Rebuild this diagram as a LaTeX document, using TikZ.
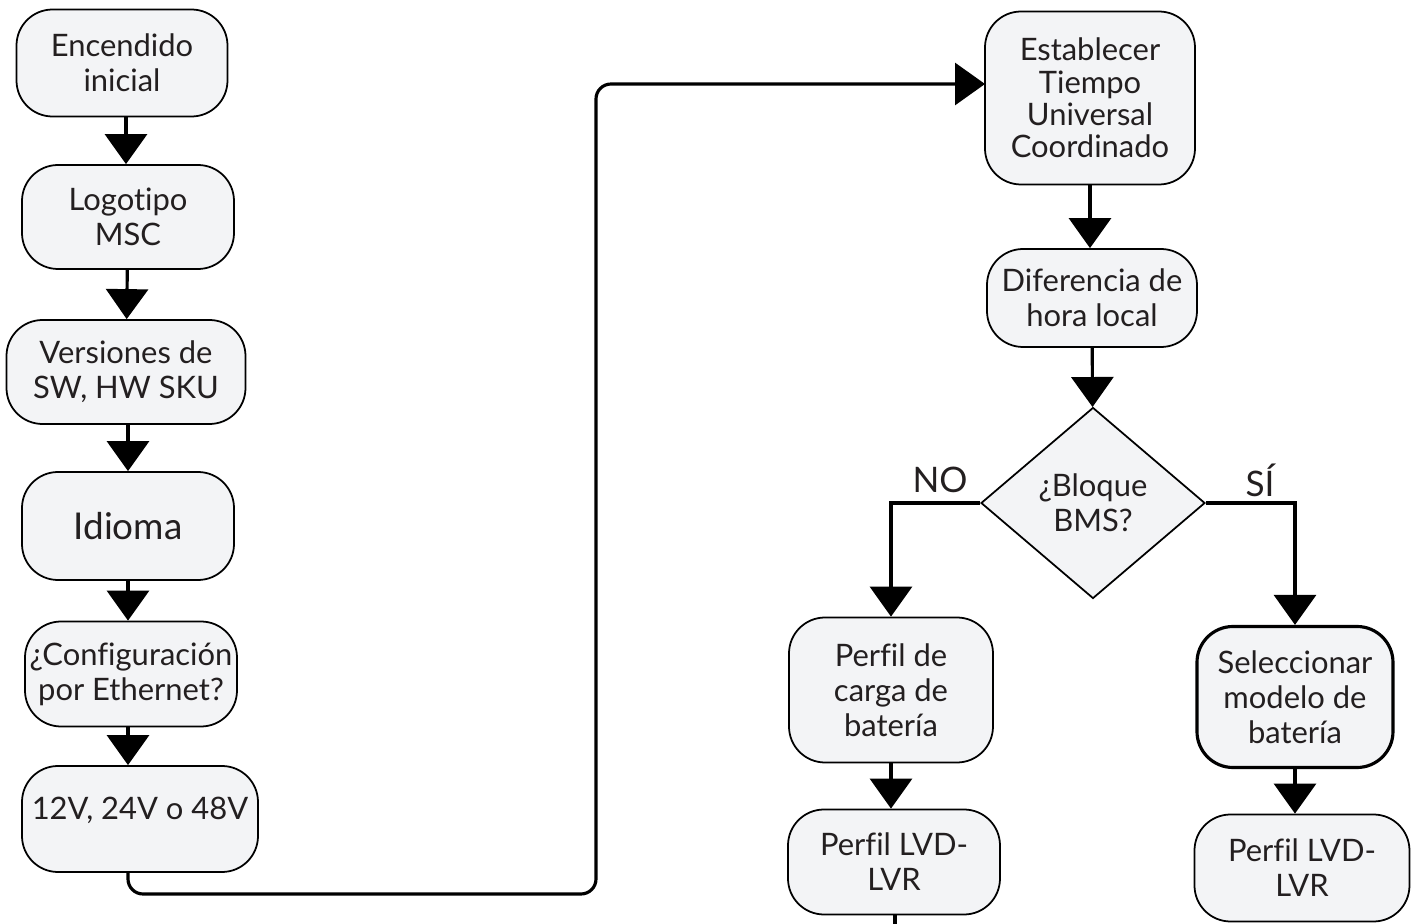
\documentclass[tikz,border=0pt]{standalone}
\usepackage{fontspec}
\setmainfont{Lato}[Ligatures=NoCommon]
\usetikzlibrary{arrows.meta, positioning, shapes.geometric, calc}
\definecolor{fcfill}{HTML}{F3F4F6}
\definecolor{fctext}{HTML}{231F20}

\begin{document}
\begin{tikzpicture}[
  every node/.style={font=\fontsize{8.8}{10}\selectfont, text=fctext},
  box/.style={rectangle, draw=black, line width=0.5pt, fill=fcfill, rounded corners=0.36cm, align=center, inner sep=0pt},
  decision/.style={diamond, draw=black, line width=0.5pt, fill=fcfill, align=center, inner sep=0pt, minimum width=2.24cm, minimum height=1.91cm},
  flow/.style={line width=0.9pt, -{Triangle[length=0.3cm, width=0.42cm]}},
]
\useasboundingbox (0,0) rectangle (14.16,-9.24);

% left column
\node[box, minimum width=2.11cm, minimum height=1.07cm] (start) at (1.22,-0.63) {Encendido\\inicial};
\node[box, minimum width=2.12cm, minimum height=1.04cm] (logo) at (1.28,-2.17) {Logotipo\\MSC};
\node[box, minimum width=2.39cm, minimum height=1.04cm] (versions) at (1.26,-3.72) {Versiones de\\SW, HW SKU};
\node[box, minimum width=2.12cm, minimum height=1.08cm, font=\fontsize{10.5}{12}\selectfont] (lang) at (1.28,-5.26) {Idioma};
\node[box, minimum width=2.12cm, minimum height=1.05cm] (ethq) at (1.31,-6.74) {¿Configuración\\por Ethernet?};
\node[box, minimum width=2.36cm, minimum height=1.06cm] (volt) at (1.40,-8.19) {\raisebox{0.22cm}{12V, 24V o 48V}};

\draw[flow] (start.south -| 1.26,0) -- (logo.north -| 1.26,0);
\draw[flow] (logo) -- (versions);
\draw[flow] (versions.south -| logo) -- (lang);
\draw[flow] (lang) -- (ethq.north -| lang);
\draw[flow] (ethq.south -| lang) -- (volt.north -| lang);

% long link to the right column
\coordinate (lowturn) at (1.28,-8.94);
\coordinate (highturn) at (5.96,-0.84);
\draw[flow, rounded corners=0.15cm] (lowturn |- volt.south) -- (lowturn) -| (highturn) -- (highturn -| 9.85,0);

% right column
\node[box, minimum width=2.10cm, minimum height=1.73cm, font=\fontsize{8.8}{9.2}\selectfont] (utc) at (10.90,-0.98) {Establecer\\Tiempo\\Universal\\Coordinado};
\node[box, minimum width=2.10cm, minimum height=0.98cm] (tzone) at (10.92,-2.98) {Diferencia de\\hora local};
\node[decision] (bms) at (10.93,-5.03) {¿Bloque\\BMS?};

\draw[flow] (utc) -- (tzone.north -| utc);
\draw[flow] (tzone) -- (bms);

% NO branch
\node[box, minimum width=2.04cm, minimum height=1.45cm] (profA) at (8.91,-6.90) {Perfil de\\carga de\\batería};
\node[box, minimum width=2.12cm, minimum height=1.05cm] (lvdA) at (8.94,-8.62) {Perfil LVD-\\LVR};
\draw[flow] (bms.west) -| (profA.north);
\draw[flow] (profA) -- (lvdA.north -| profA);
\coordinate (exitA) at (8.95,-9.30);
\draw[line width=0.9pt] (lvdA.south -| exitA) -- (exitA);

% SÍ branch
\node[box, line width=0.9pt, minimum width=1.96cm, minimum height=1.41cm] (model) at (12.95,-6.97) {Seleccionar\\modelo de\\batería};
\node[box, minimum width=2.15cm, minimum height=1.07cm] (lvdB) at (13.02,-8.68) {Perfil LVD-\\LVR};
\draw[flow] (bms.east) -| (model.north);
\draw[flow] (model) -- (lvdB.north -| model);

% branch labels
\node[font=\fontsize{10}{12}\selectfont] (nolbl) at (9.40,-4.80) {NO};
\node[font=\fontsize{10}{12}\selectfont] (silbl) at (12.60,-4.80) {SÍ};

\end{tikzpicture}
\end{document}
